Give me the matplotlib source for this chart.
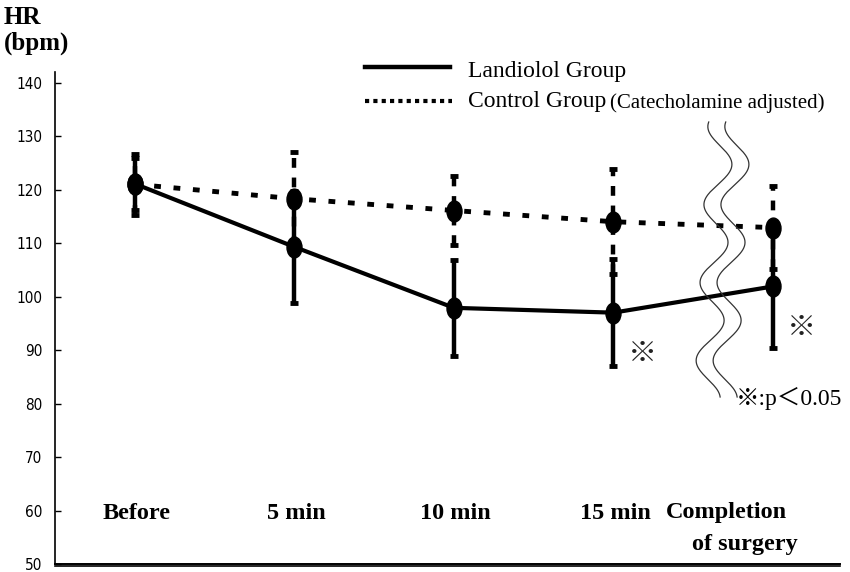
import matplotlib
matplotlib.use("Agg")
import matplotlib.pyplot as plt
import numpy as np
from matplotlib.path import Path
from matplotlib.transforms import Affine2D
from matplotlib.lines import Line2D

# data (HR, bpm; mean and SD)
categories = ["Before", "5 min", "10 min", "15 min", "Completion\nof surgery"]
landiolol_mean = [121.1, 109.3, 97.9, 97.0, 101.9]
landiolol_sd = [4.9, 10.5, 9.0, 10.0, 11.5]
control_mean = [121.0, 118.3, 116.1, 114.0, 112.9]
control_sd = [5.7, 8.8, 6.5, 9.8, 7.8]
significant = [False, False, False, True, True]
y_ticks = [50, 60, 70, 80, 90, 100, 110, 120, 130, 140]

W, H = 850, 572
SERIF = ["Liberation Serif", "DejaVu Serif"]
SERIF_CJK = ["Liberation Serif", "Noto Sans CJK JP", "DejaVu Sans"]
NARROW = ["Liberation Sans Narrow", "DejaVu Sans"]


def px(x, y):
    """pixel position (from top-left) -> figure fraction"""
    return x / W, 1 - y / H


fig = plt.figure(figsize=(W / 100, H / 100), dpi=100)
ax = fig.add_axes([55 / W, 1 - 564 / H, 785 / W, (564 - 72) / H])

ellipse = Path.unit_circle().transformed(Affine2D().scale(0.72, 1.0))
x = np.arange(len(categories))

# control group: dashed line + dashed error bars
ctl = ax.errorbar(x, control_mean, yerr=control_sd, color="black", lw=3.5,
                  linestyle=(0, (1.4, 2.6)), marker=ellipse, ms=15,
                  capsize=2.6, capthick=3.5, elinewidth=3.2, zorder=2)
for bc in ctl[2]:
    bc.set_linestyle((0, (2.2, 2.2)))

# landiolol group: solid
ax.errorbar(x, landiolol_mean, yerr=landiolol_sd, color="black", lw=3,
            linestyle="-", marker=ellipse, ms=15,
            capsize=2.6, capthick=3.5, elinewidth=3.2, zorder=3)

# significance marks
for i, sig in enumerate(significant):
    if sig:
        ax.text(i + 0.18, landiolol_mean[i] - 7.8, "※",
                fontsize=21, family=["Noto Sans CJK JP"], ha="center",
                va="center", color="#222222")

ax.set_xlim(-0.5, 4.42)
ax.set_ylim(50, 142)
ax.set_yticks(y_ticks)
ax.set_xticks([])
ax.tick_params(axis="y", direction="in", length=4, width=1, pad=9)
for lab in ax.get_yticklabels():
    lab.set_fontfamily(NARROW)
    lab.set_fontstretch("condensed")
    lab.set_fontsize(11)
for s in ["top", "right"]:
    ax.spines[s].set_visible(False)
ax.spines["left"].set_linewidth(1.2)
ax.spines["bottom"].set_linewidth(1.4)
ax.plot([0, 1], [-0.005, -0.005], transform=ax.transAxes, color="black",
        lw=1.2, clip_on=False)

# category labels inside the plot
for i, lab in enumerate(categories[:-1]):
    ax.text(i + 0.01, 59.5, lab, ha="center", va="center", fontsize=17.5,
            fontweight="bold", family=SERIF)
first, second = categories[-1].split("\n")
ax.text(3.33, 59.6, first, ha="left", va="center", fontsize=17.5,
        fontweight="bold", family=SERIF)
ax.text(3.49, 53.6, second, ha="left", va="center", fontsize=17.5,
        fontweight="bold", family=SERIF)

# y-axis title
fig.text(*px(4, 17), "HR", fontsize=18, fontweight="bold", family=SERIF,
         va="center", ha="left")
fig.text(*px(4, 43), "(bpm)", fontsize=18, fontweight="bold", family=SERIF,
         va="center", ha="left")

# legend drawn by hand
fig.add_artist(Line2D([365 / W, 450 / W], [1 - 67 / H, 1 - 67 / H],
                      color="black", lw=3.2))
fig.add_artist(Line2D([365 / W, 452 / W], [1 - 101 / H, 1 - 101 / H],
                      color="black", lw=3, linestyle=(0, (1.0, 1.0))))
fig.text(*px(468, 72), "Landiolol Group", fontsize=17, family=SERIF,
         va="center", ha="left")
fig.text(*px(468, 102), "Control Group", fontsize=17, family=SERIF,
         va="center", ha="left")
fig.text(*px(610, 103), "(Catecholamine adjusted)", fontsize=15,
         family=SERIF, va="center", ha="left")

# break marks (two wavy lines)
yy = np.linspace(122, 397, 300)
xx = 718 - 0.05 * (yy - 183) + 13 * np.sin(2 * np.pi * (yy - 145.5) / 78)
for off in (0, 17):
    fig.add_artist(Line2D((xx + off) / W, 1 - yy / H, color="#333333", lw=0.9))

fig.text(*px(736, 398), "※:p＜0.05", fontsize=17, family=SERIF_CJK,
         va="center", ha="left")

fig.savefig("out.png", dpi=100)
